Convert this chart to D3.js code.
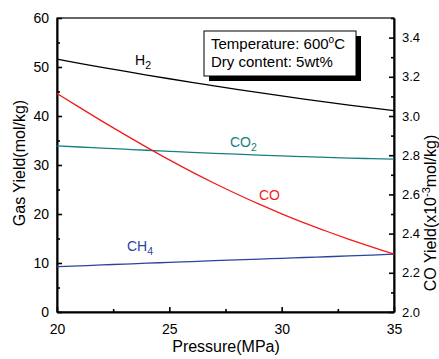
<!DOCTYPE html>
<html>
<head>
<meta charset="utf-8">
<script src="https://cdn.jsdelivr.net/npm/d3@7"></script>
<style>
  html, body { margin: 0; padding: 0; background: #fff; }
  svg { display: block; font-family: "Liberation Sans", Arial, sans-serif; }
</style>
</head>
<body>
<svg id="chart" width="439" height="359"></svg>
<script>
// Pressure (MPa)
const pressure = [20, 21, 22, 23, 24, 25, 26, 27, 28, 29, 30, 31, 32, 33, 34, 35];
// Gas yields, mol/kg (left axis)
const h2  = [51.6, 50.76, 49.94, 49.14, 48.36, 47.6, 46.86, 46.14, 45.44, 44.76, 44.1, 43.46, 42.84, 42.24, 41.66, 41.1];
const co2 = [33.9, 33.67, 33.45, 33.23, 33.01, 32.8, 32.59, 32.39, 32.2, 32.02, 31.85, 31.69, 31.55, 31.42, 31.3, 31.2];
const ch4 = [9.25, 9.42, 9.6, 9.78, 9.96, 10.13, 10.3, 10.47, 10.64, 10.8, 10.96, 11.12, 11.28, 11.44, 11.61, 11.8];
// CO yield, x10^-3 mol/kg (right axis)
const co  = [3.115, 3.044, 2.974, 2.906, 2.84, 2.776, 2.715, 2.657, 2.602, 2.55, 2.501, 2.455, 2.412, 2.371, 2.332, 2.295];

const xTicks = [20, 25, 30, 35];
const yLeftTicks = [0, 10, 20, 30, 40, 50, 60];
const yRightTicks = [2.0, 2.2, 2.4, 2.6, 2.8, 3.0, 3.2, 3.4];

const svg = d3.select("#chart");
const L = 57, R = 394, T = 18, B = 312;

const x = d3.scaleLinear().domain([20, 35]).range([L, R]);
const yL = d3.scaleLinear().domain([0, 60]).range([B, T]);
const yR = d3.scaleLinear().domain([2.0, 3.5]).range([B, T]);

// Frame
svg.append("rect").attr("x", L).attr("y", T).attr("width", R - L).attr("height", B - T)
  .attr("fill", "none").attr("stroke", "#000").attr("stroke-width", 1.2);

// Axes with inward ticks
function styleAxis(g, size) {
  g.selectAll(".domain").attr("stroke", "#000").attr("stroke-width", 2);
  g.selectAll(".tick line").attr("stroke", "#000").attr("stroke-width", 1.6);
  g.selectAll(".tick text").attr("font-size", size).attr("fill", "#000")
    .attr("font-family", "Liberation Sans, Arial, sans-serif");
}
function minor(g) {
  g.select(".domain").remove();
  g.selectAll(".tick line").attr("stroke", "#000").attr("stroke-width", 1.6);
}

// bottom
const gx = svg.append("g").attr("transform", `translate(0,${B})`)
  .call(d3.axisBottom(x).tickValues(xTicks).tickFormat(d3.format("d")).tickSizeInner(-5).tickSizeOuter(0).tickPadding(12));
styleAxis(gx, 14);
svg.append("g").attr("transform", `translate(0,${B})`)
  .call(d3.axisBottom(x).tickValues([22.5, 27.5, 32.5]).tickFormat("").tickSizeInner(-3).tickSizeOuter(0))
  .call(minor);

// left
const gyl = svg.append("g").attr("transform", `translate(${L},0)`)
  .call(d3.axisLeft(yL).tickValues(yLeftTicks).tickFormat(d3.format("d")).tickSizeInner(-5).tickSizeOuter(0).tickPadding(8));
styleAxis(gyl, 14);
svg.append("g").attr("transform", `translate(${L},0)`)
  .call(d3.axisLeft(yL).tickValues([5, 15, 25, 35, 45, 55]).tickFormat("").tickSizeInner(-3).tickSizeOuter(0))
  .call(minor);

// right
const gyr = svg.append("g").attr("transform", `translate(${R},0)`)
  .call(d3.axisRight(yR).tickValues(yRightTicks).tickFormat(d3.format(".1f")).tickSizeInner(-5).tickSizeOuter(0).tickPadding(8));
styleAxis(gyr, 13);
svg.append("g").attr("transform", `translate(${R},0)`)
  .call(d3.axisRight(yR).tickValues([2.1, 2.3, 2.5, 2.7, 2.9, 3.1, 3.3, 3.5]).tickFormat("").tickSizeInner(-3).tickSizeOuter(0))
  .call(minor);

// Data lines
const lineL = d3.line().x((d, i) => x(pressure[i])).y(d => yL(d)).curve(d3.curveMonotoneX);
const lineR = d3.line().x((d, i) => x(pressure[i])).y(d => yR(d)).curve(d3.curveMonotoneX);

const series = [
  { data: h2,  line: lineL, color: "#000000" },
  { data: co2, line: lineL, color: "#158080" },
  { data: ch4, line: lineL, color: "#2a44a0" },
  { data: co,  line: lineR, color: "#f01c1c" }
];
series.forEach(s => {
  svg.append("path").attr("d", s.line(s.data)).attr("fill", "none")
    .attr("stroke", s.color).attr("stroke-width", 1.3);
});

// Series labels with subscripts
function label(xp, yp, main, sub, color) {
  const t = svg.append("text").attr("x", xp).attr("y", yp).attr("font-size", 14).attr("fill", color);
  t.append("tspan").text(main);
  if (sub) t.append("tspan").attr("font-size", 10.5).attr("dy", 4).text(sub);
}
label(135, 65, "H", "2", "#000");
label(230, 147, "CO", "2", "#158080");
label(259, 200, "CO", null, "#f01c1c");
label(127, 251, "CH", "4", "#2a44a0");

// Condition box with drop shadow
const bx = 204, by = 31, bw = 152, bh = 45;
svg.append("rect").attr("x", bx + 5).attr("y", by + 5).attr("width", bw).attr("height", bh).attr("fill", "#000");
svg.append("rect").attr("x", bx).attr("y", by).attr("width", bw).attr("height", bh)
  .attr("fill", "#fff").attr("stroke", "#000").attr("stroke-width", 1);
const t1 = svg.append("text").attr("x", bx + 7).attr("y", 49).attr("font-size", 15).attr("fill", "#000");
t1.append("tspan").text("Temperature: 600");
t1.append("tspan").attr("font-size", 10).attr("dy", -6).text("o");
t1.append("tspan").attr("dy", 6).text("C");
svg.append("text").attr("x", bx + 7).attr("y", 67).attr("font-size", 15).attr("fill", "#000")
  .text("Dry content: 5wt%");

// Axis titles
svg.append("text").attr("x", 226).attr("y", 352).attr("text-anchor", "middle")
  .attr("font-size", 16).attr("fill", "#000").text("Pressure(MPa)");
svg.append("text").attr("transform", `translate(25,163) rotate(-90)`).attr("text-anchor", "middle")
  .attr("font-size", 16).attr("fill", "#000").text("Gas Yield(mol/kg)");
const rt = svg.append("text").attr("transform", `translate(436,213) rotate(-90)`).attr("text-anchor", "middle")
  .attr("font-size", 16).attr("fill", "#000");
rt.append("tspan").text("CO Yield(x10");
rt.append("tspan").attr("font-size", 11).attr("dy", -6).text("-3");
rt.append("tspan").attr("dy", 6).text("mol/kg)");
</script>
</body>
</html>
